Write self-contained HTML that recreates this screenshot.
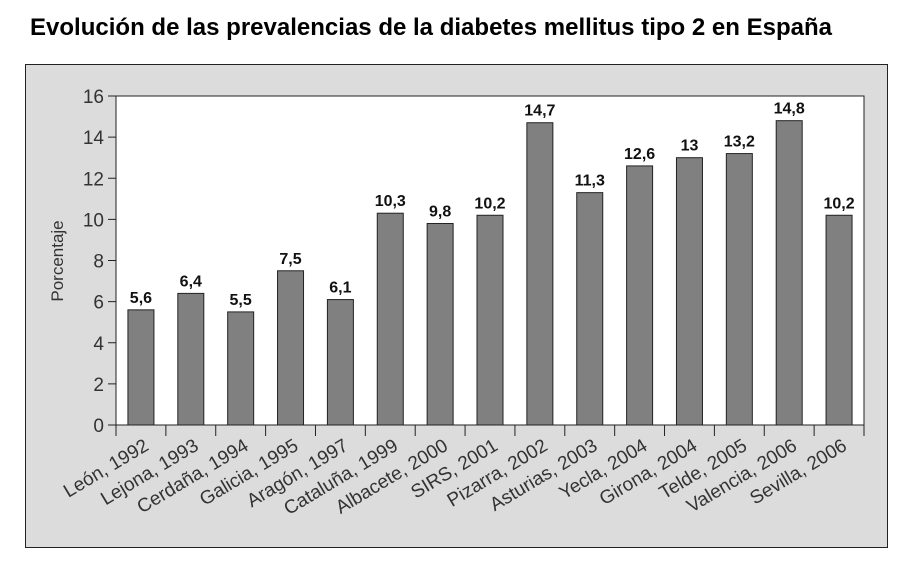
<!DOCTYPE html>
<html><head><meta charset="utf-8"><style>
body{margin:0;background:#fff;width:913px;height:574px;overflow:hidden;font-family:"Liberation Sans",sans-serif}
</style></head><body>
<svg width="913" height="574" font-family="Liberation Sans, sans-serif">
<text x="30" y="35" font-size="24" font-weight="bold" fill="#000" textLength="802">Evolución de las prevalencias de la diabetes mellitus tipo 2 en España</text>
<rect x="25.5" y="64.5" width="862" height="483" fill="#dcdcdc" stroke="#222"/>
<rect x="116" y="96" width="748" height="329" fill="#fff" stroke="#222"/>
<text transform="translate(63,261) rotate(-90)" text-anchor="middle" font-size="17" fill="#333">Porcentaje</text>
<g id="g"></g>
</svg>
<script>
const categories=["León, 1992","Lejona, 1993","Cerdaña, 1994","Galicia, 1995","Aragón, 1997","Cataluña, 1999","Albacete, 2000","SIRS, 2001","Pizarra, 2002","Asturias, 2003","Yecla, 2004","Girona, 2004","Telde, 2005","Valencia, 2006","Sevilla, 2006"];
const values=[5.6,6.4,5.5,7.5,6.1,10.3,9.8,10.2,14.7,11.3,12.6,13,13.2,14.8,10.2];
const valueLabels=["5,6","6,4","5,5","7,5","6,1","10,3","9,8","10,2","14,7","11,3","12,6","13","13,2","14,8","10,2"];
const yTicks=[0,2,4,6,8,10,12,14,16];
const NS="http://www.w3.org/2000/svg",g=document.getElementById('g');
const x0=116,x1=864,y0=425,y1=96,bw=(x1-x0)/categories.length;
const y=v=>y0-(v/16)*(y0-y1);
const xc=i=>x0+bw*(i+0.5);
function mk(t,a,txt){const e=document.createElementNS(NS,t);for(const k in a)e.setAttribute(k,a[k]);if(txt!=null)e.textContent=txt;g.appendChild(e);return e;}
yTicks.forEach(v=>{
 const l=mk('line',{x1:x0-8,x2:x0,y1:y(v),y2:y(v),stroke:'#222'});
 
 
 const t=mk('text',{x:x0-12,y:y(v)+7,'text-anchor':'end','font-size':19,fill:'#333'},v);
 
 
});
for(let i=0;i<=categories.length;i++){
 const l=mk('line',{x1:x0+bw*i,x2:x0+bw*i,y1:y0,y2:y0+11,stroke:'#222'});
 
 
}
categories.forEach((c,i)=>{
 const b=mk('rect',{x:xc(i)-13,y:y(values[i]),width:26,height:y0-y(values[i]),fill:'#808080',stroke:'#222'});
 
 
 const v=mk('text',{x:xc(i),y:y(values[i])-7,'text-anchor':'middle','font-size':16,'font-weight':'bold',fill:'#111'},valueLabels[i]);
 
 
 const t=mk('text',{transform:`translate(${xc(i)+9},${y0+24}) rotate(-31)`,'text-anchor':'end','font-size':19,fill:'#333'},c);
 
 
});
</script>
</body></html>
